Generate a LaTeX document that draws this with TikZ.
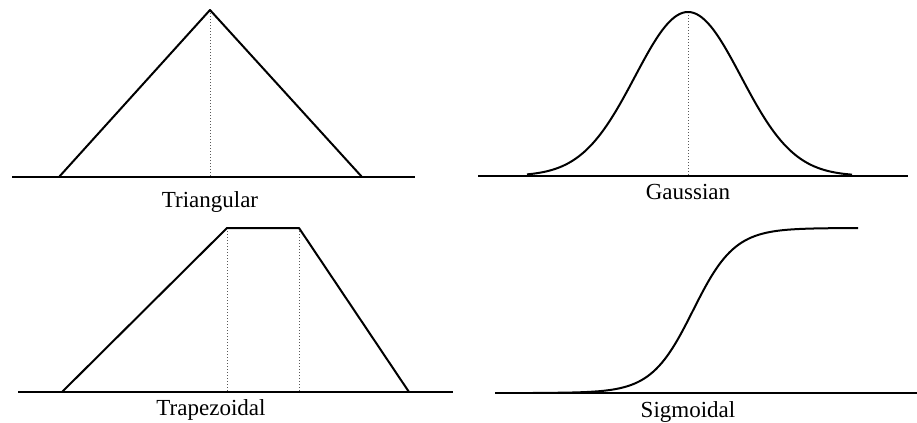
\documentclass[tikz,border=0pt]{standalone}
\usepackage{fontspec}
\setmainfont{Liberation Serif}
\usepackage{tikz}
\usetikzlibrary{positioning}

\begin{document}
\begin{tikzpicture}[x=0.5pt,y=-0.5pt,font=\fontsize{11.5}{13}\selectfont,
    curve/.style={line width=1pt,line join=round},
    axis/.style={line width=1pt},
    guide/.style={gray!70!black,line width=0.5pt,densely dotted}]
  \useasboundingbox (0,0) rectangle (917,423);
  % triangular
  \draw[axis] (12,177) -- (415,177);
  \draw[guide] (210,10) -- (210,177);
  \draw[curve] (59,177) -- (210,10) -- (362,177);
  \node[anchor=base] (tri) at (210,207) {Triangular};
  % gaussian
  \draw[axis] (478,176) -- (908,176);
  \draw[guide] (688,12) -- (688,176);
  \draw[curve] plot[domain=527:852,samples=120,smooth]
    (\x,{176-164*exp(-0.5*((\x-688)/53)^2)});
  \node[anchor=base] (gauss) at (688,199) {Gaussian};
  % trapezoidal
  \draw[axis] (18,392) -- (453,392);
  \draw[guide] (227,228) -- (227,392);
  \draw[guide] (299,228) -- (299,392);
  \draw[curve] (62,392) -- (227,228) -- (299,228) -- (409,392);
  \node[anchor=base] (trap) at (211,415) {Trapezoidal};
  % sigmoidal
  \draw[axis] (495,393) -- (917,393);
  \draw[curve] plot[domain=533:858,samples=120,smooth]
    (\x,{393-165/(1+exp(-0.048*(\x-693)))});
  \node[anchor=base] (sig) at (688,417) {Sigmoidal};
\end{tikzpicture}
\end{document}
